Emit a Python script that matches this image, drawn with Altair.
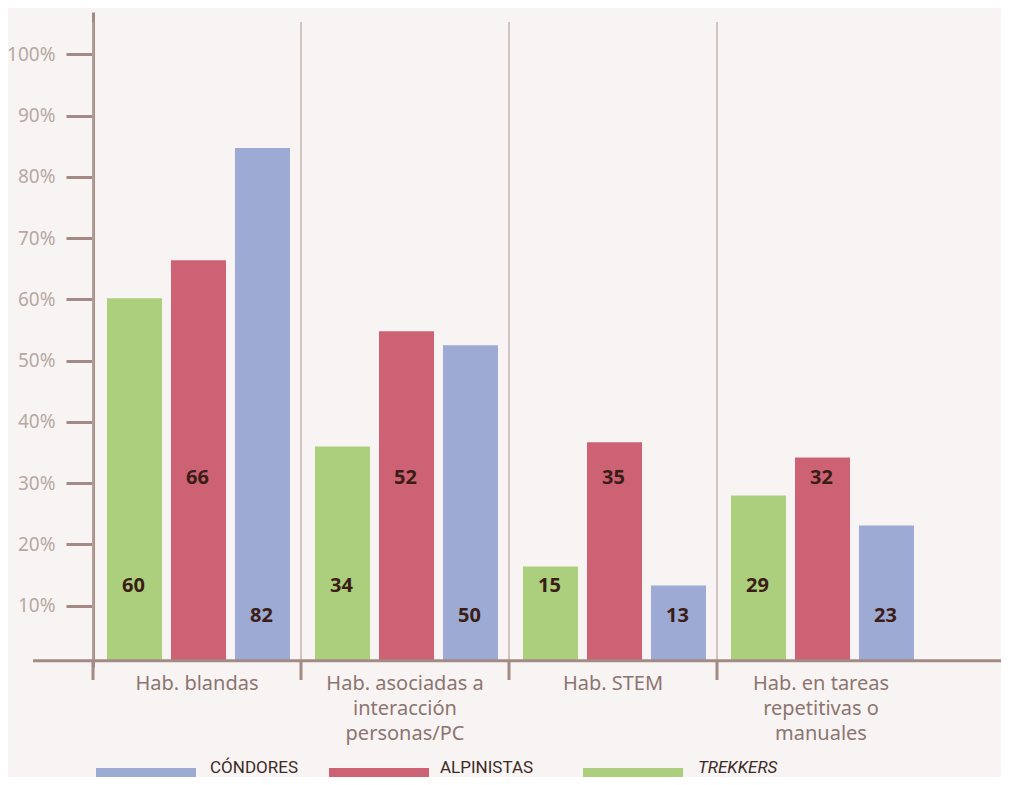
import altair as alt
import pandas as pd

# ---------------- data ----------------
CATEGORIES = [
    "Hab. blandas",
    "Hab. asociadas a\ninteracción\npersonas/PC",
    "Hab. STEM",
    "Hab. en tareas\nrepetitivas o\nmanuales",
]
SERIES = ["TREKKERS", "ALPINISTAS", "CÓNDORES"]

# bar heights as drawn (percent)
TREKKERS_BAR = [60.2, 36.0, 16.4, 28.0]
ALPINISTAS_BAR = [66.4, 54.8, 36.7, 34.2]
CONDORES_BAR = [84.7, 52.5, 13.3, 23.1]

# printed labels
TREKKERS_LABEL = [60, 34, 15, 29]
ALPINISTAS_LABEL = [66, 52, 35, 32]
CONDORES_LABEL = [82, 50, 13, 23]

Y_TICKS = [10, 20, 30, 40, 50, 60, 70, 80, 90, 100]

# ---------------- styles ----------------
BG = "#f8f4f3"
AXIS = "#a48a84"
SEP = "#bcaaa5"
TICK_LABEL = "#b7a8a3"
CAT_LABEL = "#8c7570"
NUM = "#3a1d17"
LEGEND_TXT = "#3d2a26"
COLORS = {"TREKKERS": "#abcf7c", "ALPINISTAS": "#cd6274", "CÓNDORES": "#9daad3"}
LABEL_LEVEL = {"TREKKERS": 13.3, "ALPINISTAS": 30.9, "CÓNDORES": 8.4}
BASELINE = 1.0
Y_MAX = 106.9
W, H = 832, 655

rows = []
for s, bars, labs in [
    ("TREKKERS", TREKKERS_BAR, TREKKERS_LABEL),
    ("ALPINISTAS", ALPINISTAS_BAR, ALPINISTAS_LABEL),
    ("CÓNDORES", CONDORES_BAR, CONDORES_LABEL),
]:
    for c, b, l in zip(CATEGORIES, bars, labs):
        rows.append({"cat": c, "series": s, "bar": b, "label": str(l),
                     "ly": LABEL_LEVEL[s]})
df = pd.DataFrame(rows)
cat_df = pd.DataFrame({"cat": CATEGORIES})

x_scale = alt.Scale(domain=CATEGORIES, paddingInner=0, paddingOuter=0)
y_scale = alt.Scale(domain=[0, Y_MAX], nice=False, zero=False)
off_scale = alt.Scale(domain=SERIES, range=[14, 197], paddingInner=0.14, paddingOuter=0)
color_scale = alt.Scale(domain=list(COLORS.keys()), range=list(COLORS.values()))

x_axis = alt.Axis(
    title=None, domain=False, ticks=False, labelAngle=0,
    labelAlign="center", labelBaseline="top",
    labelExpr="split(datum.label, '\\n')", labelFontSize=20, labelFont="Noto Sans",
    labelColor=CAT_LABEL, labelLineHeight=25, labelPadding=6,
)
y_axis = alt.Axis(
    title=None, values=Y_TICKS, labelExpr="datum.value + '%'",
    domain=True, domainColor=AXIS, domainWidth=3,
    ticks=True, tickColor=AXIS, tickWidth=3, tickSize=27,
    labelColor=TICK_LABEL, labelFontSize=19, labelFont="Noto Sans", labelPadding=11,
    grid=False,
)

base = alt.Chart(df)

bars = base.mark_bar().encode(
    x=alt.X("cat:N", scale=x_scale, axis=x_axis, sort=CATEGORIES),
    xOffset=alt.XOffset("series:N", scale=off_scale, sort=SERIES),
    y=alt.Y("bar:Q", scale=y_scale, axis=y_axis),
    y2=alt.datum(BASELINE),
    color=alt.Color("series:N", scale=color_scale, legend=None),
)

labels = base.mark_text(
    font="Noto Sans", fontWeight="bold", fontSize=20, color=NUM, baseline="middle", dx=-1
).encode(
    x=alt.X("cat:N", scale=x_scale, sort=CATEGORIES),
    xOffset=alt.XOffset("series:N", scale=off_scale, sort=SERIES),
    y=alt.Y("ly:Q", scale=y_scale),
    text="label:N",
)

seps = alt.Chart(cat_df).mark_rule(color=SEP, strokeWidth=1.3).encode(
    x=alt.X("cat:N", scale=x_scale, bandPosition=0, sort=CATEGORIES),
    y=alt.value(10), y2=alt.value(648),
)
ticks = alt.Chart(cat_df).mark_rule(color=AXIS, strokeWidth=3).encode(
    x=alt.X("cat:N", scale=x_scale, bandPosition=0, sort=CATEGORIES),
    y=alt.value(648), y2=alt.value(668),
)

one = pd.DataFrame({"k": [0]})
xaxis_line = alt.Chart(one).mark_rule(color=AXIS, strokeWidth=3).encode(
    x=alt.value(-60), x2=alt.value(916), y=alt.datum(BASELINE)
)

legend_layers = []
LEG = [("CÓNDORES", 3, 117, "normal"), ("ALPINISTAS", 236, 347, "normal"),
       ("TREKKERS", 490, 605, "italic")]
for name, rx, tx, style in LEG:
    legend_layers.append(
        alt.Chart(one).mark_rect(color=COLORS[name]).encode(
            x=alt.value(rx), x2=alt.value(rx + 100), y=alt.value(756), y2=alt.value(772)
        )
    )
    legend_layers.append(
        alt.Chart(one).mark_text(
            text=name, font="Roboto", fontSize=17, fontStyle=style, color=LEGEND_TXT,
            align="left", baseline="alphabetic"
        ).encode(x=alt.value(tx), y=alt.value(761))
    )

chart = alt.layer(seps, bars, xaxis_line, ticks, labels, *legend_layers).properties(
    width=W, height=H,
    padding={"left": 85, "top": 4, "right": 76, "bottom": 110},
    autosize=alt.AutoSizeParams(type="none"),
    background=BG,
).configure_view(stroke=None)

chart.save("out.html", embed_options={"renderer": "svg", "actions": False})
